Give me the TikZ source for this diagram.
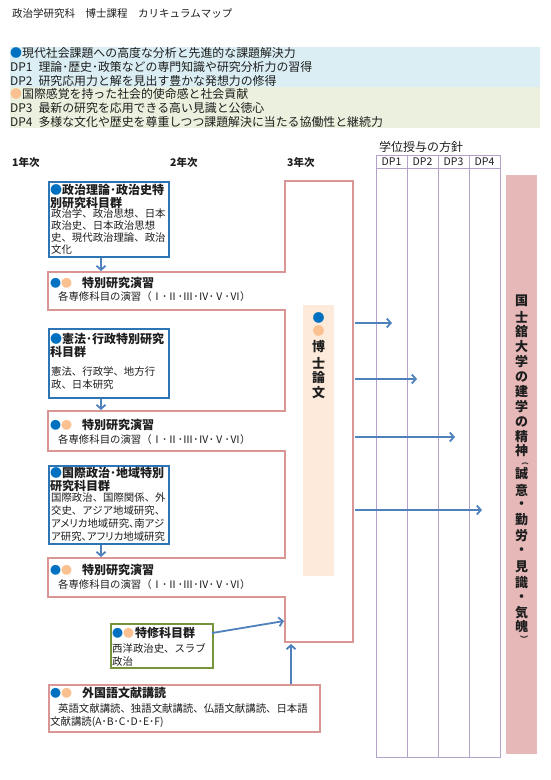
\documentclass[tikz,border=0pt]{standalone}
\usepackage{fontspec}
\setmainfont{Noto Sans CJK JP}
\newfontfamily\pfont[RawFeature=+palt]{Noto Sans CJK JP}
\usetikzlibrary{arrows.meta}
\definecolor{pinkline}{HTML}{D99694}
\definecolor{boxblue}{HTML}{2E75B6}
\definecolor{arrowblue}{HTML}{4F81BD}
\definecolor{boxgreen}{HTML}{77933C}
\definecolor{dpline}{HTML}{B3A2C7}
\definecolor{barpink}{HTML}{E6B9B8}
\definecolor{peach}{HTML}{FDEADA}
\definecolor{bandblue}{HTML}{DAEEF3}
\definecolor{bandgreen}{HTML}{EBF1DE}
\definecolor{dotblue}{HTML}{0070C0}
\definecolor{dotorange}{HTML}{FAC090}
\definecolor{ink}{HTML}{1E1E1E}
\newcommand{\BD}{\textcolor{dotblue}{●}}
\newcommand{\OD}{\textcolor{dotorange}{●}}
\tikzset{
  txt/.style={inner sep=0pt, anchor=west, text=ink},
  mtxt/.style={inner sep=0pt, anchor=north west, align=left, text=ink},
  fs/.style={font=\fontsize{#1}{#1}\selectfont},
  fsb/.style={font=\bfseries\fontsize{#1}{#1}\selectfont},
  bluebox/.style={draw=boxblue, line width=2pt, inner sep=0pt, anchor=north west},
  pinkbox/.style={draw=pinkline, line width=2pt, inner sep=0pt, anchor=north west},
  greenbox/.style={draw=boxgreen, line width=2pt, inner sep=0pt, anchor=north west},
  pinkl/.style={draw=pinkline, line width=2pt, line join=miter},
  dpl/.style={draw=dpline, line width=1pt},
  arr/.style={draw=arrowblue, line width=1.8pt, -{Straight Barb[length=4pt,width=9pt]}},
  vt/.style={inner sep=0pt, anchor=center, text=ink, font=\bfseries\fontsize{13}{13}\selectfont},
}
\begin{document}
\begin{tikzpicture}[x=1pt,y=-1pt]
\fill[white] (0,0) rectangle (550,780);
\useasboundingbox (0,0) rectangle (550,780);

% title
\node[txt, fs=10.5] (title) at (12,14) {政治学研究科　博士課程　カリキュラムマップ};

% DP bands
\fill[bandblue] (10,47) rectangle (540,87);
\fill[bandgreen] (10,87) rectangle (540,128);
\node[txt, fs=11.9] (l1) at (10,53) {\BD 現代社会課題への高度な分析と先進的な課題解決力};
\node[txt, fs=11.9] (l2) at (10,67) {DP1\hspace{6pt}理論･歴史･政策などの専門知識や研究分析力の習得};
\node[txt, fs=11.9] (l3) at (10,80.5) {DP2\hspace{6pt}研究応用力と解を見出す豊かな発想力の修得};
\node[txt, fs=11.9] (l4) at (10,94) {\OD 国際感覚を持った社会的使命感と社会貢献};
\node[txt, fs=11.9] (l5) at (10,108) {DP3\hspace{6pt}最新の研究を応用できる高い見識と公徳心};
\node[txt, fs=11.9] (l6) at (10,121.5) {DP4\hspace{6pt}多様な文化や歴史を尊重しつつ課題解決に当たる協働性と継続力};

% years
\node[txt, fsb=10.5] (y1) at (12,162) {1年次};
\node[txt, fsb=10.5] (y2) at (170,162) {2年次};
\node[txt, fsb=10.5] (y3) at (287,162) {3年次};

% pink union outline (seminars + 3rd year column)
\draw[pinkl] (48,272) -- (285,272) -- (285,181) -- (353,181) -- (353,642) -- (285,642)
  -- (285,597) -- (48,597) -- (48,558) -- (285,558) -- (285,451) -- (48,451)
  -- (48,411) -- (285,411) -- (285,310) -- (48,310) -- cycle;

% blue boxes
\node[bluebox, minimum width=120pt, minimum height=75pt] (b1) at (48,181) {};
\node[mtxt, font=\bfseries\fontsize{12}{13.5}\selectfont] (b1t) at (50,184) {\BD 政治理論･政治史特\\別研究科目群};
\node[mtxt, font=\fontsize{10.4}{12}\selectfont] (b1b) at (51,209) {政治学、政治思想、日本\\政治史、日本政治思想\\史、現代政治理論、政治\\文化};

\node[bluebox, minimum width=120pt, minimum height=69pt] (b2) at (48,328) {};
\node[mtxt, font=\bfseries\fontsize{12}{13.5}\selectfont] (b2t) at (50,333) {\BD 憲法･行政特別研究\\科目群};
\node[mtxt, font=\fontsize{10.4}{13}\selectfont] (b2b) at (51,367) {憲法、行政学、地方行\\政、日本研究};

\node[bluebox, minimum width=120pt, minimum height=78pt] (b3) at (48,465) {};
\node[mtxt, font=\bfseries\fontsize{12}{13.5}\selectfont] (b3t) at (50,467) {\BD 国際政治･地域特別\\研究科目群};
\node[mtxt, font=\fontsize{10.4}{13}\selectfont] (b3b) at (51,493) {国際政治、国際関係、外\\交史、アジア地域研究、\\{\pfont アメリカ地域研究、南アジ}\\{\pfont ア研究、アフリカ地域研究}};

% seminar texts
\node[txt, fs=11] (s1d) at (50,283) {\BD\OD};
\node[txt, fsb=12] (s1t) at (82,283) {特別研究演習};
\node[txt, fs=10.4] (s1b) at (58,297) {各専修科目の演習（Ⅰ･Ⅱ･Ⅲ･Ⅳ･Ⅴ･Ⅵ）};
\node[txt, fs=11] (s2d) at (50,425) {\BD\OD};
\node[txt, fsb=12] (s2t) at (82,425) {特別研究演習};
\node[txt, fs=10.4] (s2b) at (58,440) {各専修科目の演習（Ⅰ･Ⅱ･Ⅲ･Ⅳ･Ⅴ･Ⅵ）};
\node[txt, fs=11] (s3d) at (50,570) {\BD\OD};
\node[txt, fsb=12] (s3t) at (82,570) {特別研究演習};
\node[txt, fs=10.4] (s3b) at (58,585) {各専修科目の演習（Ⅰ･Ⅱ･Ⅲ･Ⅳ･Ⅴ･Ⅵ）};

% arrows blue boxes -> seminars
\coordinate (s1top) at (101,271);
\coordinate (s2top) at (101,410);
\coordinate (s3top) at (101,557);
\draw[arr] (b1.south -| s1top) -- (s1top);
\draw[arr] (b2.south -| s2top) -- (s2top);
\draw[arr] (b3.south -| s3top) -- (s3top);

% green box
\node[greenbox, minimum width=102pt, minimum height=44pt] (g) at (110,623) {};
\node[txt, fs=11] (gd) at (112,633) {\BD\OD};
\node[txt, fsb=12] (gt) at (135,633) {特修科目群};
\node[mtxt, font=\fontsize{10.4}{13}\selectfont] (gb) at (112,643) {西洋政治史、スラブ\\政治};

% foreign language box
\node[pinkbox, minimum width=271pt, minimum height=47pt] (f) at (48,684) {};
\node[txt, fs=11] (fd) at (50,693) {\BD\OD};
\node[txt, fsb=12] (ft) at (82,693) {外国語文献講読};
\node[mtxt, font=\fontsize{10.4}{13}\selectfont] (fb) at (50,704) {\hspace*{8pt}英語文献講読、独語文献講読、仏語文献講読、日本語\\文献講読(A･B･C･D･E･F)};

% arrows into 3rd year column
\coordinate (gs) at (212,633);
\coordinate (ce) at (284,621);
\draw[arr] (gs) -- (ce);
\coordinate (fa) at (291,684);
\coordinate (cb) at (291,644);
\draw[arr] (fa) -- (cb);

% doctoral thesis column
\fill[peach] (303,305) rectangle (334,576);
\node[vt, font=\fontsize{12}{12}\selectfont] (dd1) at (318.5,318) {\BD};
\node[vt, font=\fontsize{12}{12}\selectfont] (dd2) at (318.5,331) {\OD};
\node[vt] (h1) at (318.5,347) {博};
\node[vt] (h2) at (318.5,363) {士};
\node[vt] (h3) at (318.5,378) {論};
\node[vt] (h4) at (318.5,393) {文};

% arrows to DP
\coordinate (a1s) at (355,323); \coordinate (a1e) at (392,323);
\coordinate (a2s) at (355,379); \coordinate (a2e) at (417,379);
\coordinate (a3s) at (355,437); \coordinate (a3e) at (455,437);
\coordinate (a4s) at (355,510); \coordinate (a4e) at (482,510);

% DP table
\node[inner sep=0pt, text=ink, font=\fontsize{12}{12}\selectfont] (dpt) at (421,147) {学位授与の方針};
\draw[dpl] (376,155) rectangle (500,757);
\draw[dpl] (376,168) -- (500,168);
\draw[dpl] (407,155) -- (407,757);
\draw[dpl] (438,155) -- (438,757);
\draw[dpl] (469,155) -- (469,757);
\node[inner sep=0pt, text=ink, font=\fontsize{10.5}{10.5}\selectfont] (dp1) at (391.5,162) {DP1};
\node[inner sep=0pt, text=ink, font=\fontsize{10.5}{10.5}\selectfont] (dp2) at (422.5,162) {DP2};
\node[inner sep=0pt, text=ink, font=\fontsize{10.5}{10.5}\selectfont] (dp3) at (453.5,162) {DP3};
\node[inner sep=0pt, text=ink, font=\fontsize{10.5}{10.5}\selectfont] (dp4) at (484.5,162) {DP4};

\draw[arr] (a1s) -- (a1e);
\draw[arr] (a2s) -- (a2e);
\draw[arr] (a3s) -- (a3e);
\draw[arr] (a4s) -- (a4e);

% right bar
\fill[barpink] (506,175) rectangle (537,754);
\foreach \c/\yy [count=\i] in {国/301,士/317,舘/332,大/347,学/362,の/377,建/392,学/407,の/422,精/437,神/451,誠/474,意/490,・/505,勤/520,労/536,・/551,見/567,識/583,・/598,気/613,魄/627}
  \node[vt] (v\i) at (521.5,\yy) {\c};
\node[vt, font=\bfseries\fontsize{7}{7}\selectfont] (vp1) at (525,464) {︵};
\node[vt, font=\bfseries\fontsize{8}{8}\selectfont] (vp2) at (524,639) {︶};
\end{tikzpicture}
\end{document}
